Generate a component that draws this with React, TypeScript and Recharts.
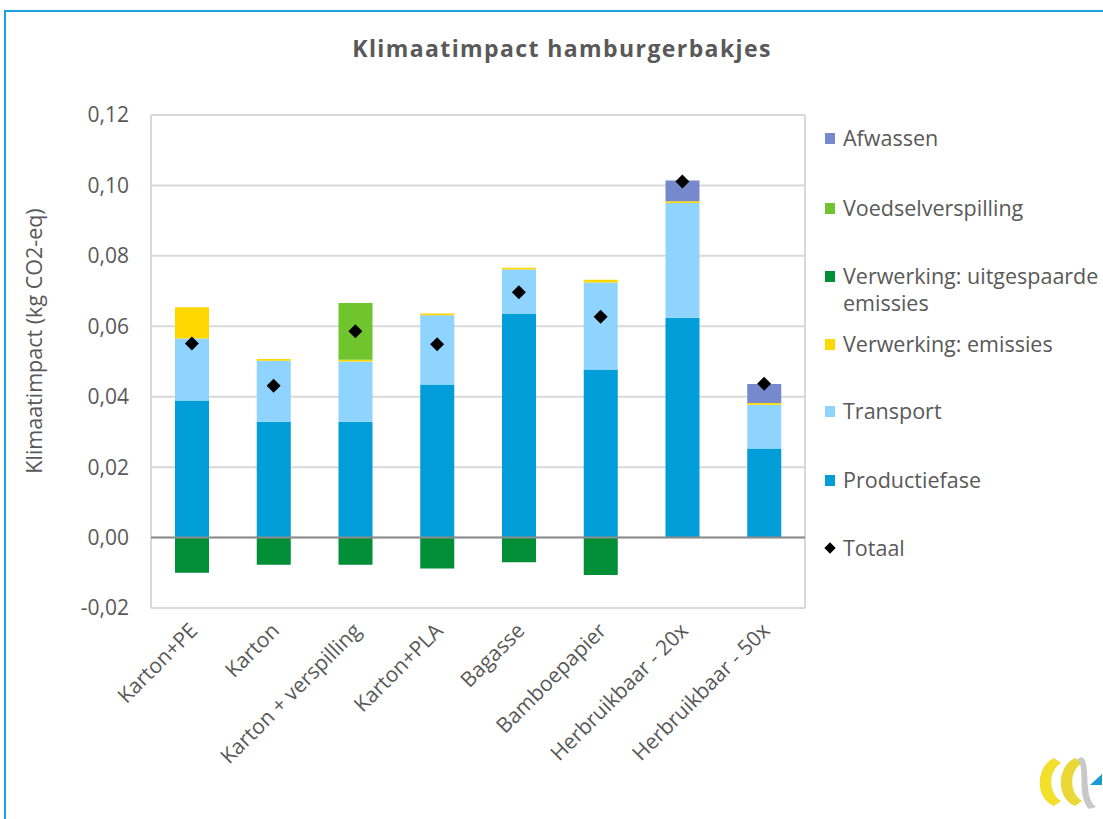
import { ComposedChart, Bar, Scatter, XAxis, YAxis, CartesianGrid, ReferenceLine } from 'recharts'

const categories = ['Karton+PE', 'Karton', 'Karton + verspilling', 'Karton+PLA', 'Bagasse', 'Bamboepapier', 'Herbruikbaar - 20x', 'Herbruikbaar - 50x']
const productiefase = [0.0389, 0.0329, 0.0329, 0.0435, 0.0635, 0.0477, 0.0624, 0.0253]
const transport = [0.0176, 0.0173, 0.0171, 0.0196, 0.0126, 0.0247, 0.0326, 0.0124]
const emissies = [0.0089, 0.0005, 0.0005, 0.0005, 0.0005, 0.0008, 0.0005, 0.0005]
const voedselverspilling = [0, 0, 0.0161, 0, 0, 0, 0, 0]
const afwassen = [0, 0, 0, 0, 0, 0, 0.0059, 0.0054]
const uitgespaard = [-0.01, -0.0077, -0.0077, -0.0088, -0.007, -0.0106, 0, 0]
const totaal = [0.0551, 0.0431, 0.0586, 0.0549, 0.0697, 0.0627, 0.1011, 0.0437]
const yTicks = [-0.02, 0, 0.02, 0.04, 0.06, 0.08, 0.1, 0.12]

const data = categories.map((name, i) => ({
  name,
  productiefase: productiefase[i],
  transport: transport[i],
  emissies: emissies[i],
  voedselverspilling: voedselverspilling[i],
  afwassen: afwassen[i],
  uitgespaard: uitgespaard[i],
  totaal: totaal[i],
}))

const TEXT = '#595959'
const FONT = '"Open Sans", "Liberation Sans", sans-serif'

// legend entries, top offset in px from the legend box
const legendItems = [
  { label: 'Afwassen', color: '#7589cc', top: 0 },
  { label: 'Voedselverspilling', color: '#70c52f', top: 70 },
  { label: 'Verwerking: uitgespaarde', label2: 'emissies', color: '#008f36', top: 138 },
  { label: 'Verwerking: emissies', color: '#ffd800', top: 206 },
  { label: 'Transport', color: '#8fd4ff', top: 273 },
  { label: 'Productiefase', color: '#009dd9', top: 342 },
  { label: 'Totaal', color: '#000', top: 410, diamond: true },
]

const Diamond = (props: any) => {
  const { cx, cy } = props
  if (cx == null || cy == null) return null
  const r = 7
  return <polygon points={`${cx},${cy - r} ${cx + r},${cy} ${cx},${cy + r} ${cx - r},${cy}`} fill="#000" />
}

const XTick = (props: any) => {
  const { x, y, payload } = props
  const ax = x + 7
  const ay = y + 16
  return (
    <text x={ax} y={ay} transform={`rotate(-45 ${ax} ${ay})`} textAnchor="end" fill={TEXT} fontSize={21} fontFamily={FONT}>
      {payload.value}
    </text>
  )
}

export default function App() {
  return (
    <div style={{ position: 'absolute', left: 0, top: 0, width: 1103, height: 819, background: '#fff', overflow: 'hidden' }}>
      <div style={{ position: 'absolute', left: 4, top: 10, width: 1200, height: 900, border: '2px solid #1ba1e2' }} />
      <div
        style={{
          position: 'absolute',
          left: 0,
          top: 32,
          width: 1124,
          textAlign: 'center',
          fontFamily: FONT,
          fontWeight: 'bold',
          fontSize: 23,
          letterSpacing: 1.4,
          color: TEXT,
        }}
      >
        Klimaatimpact hamburgerbakjes
      </div>
      <div style={{ position: 'absolute', left: 0, top: 0 }}>
        <ComposedChart
          width={1103}
          height={819}
          data={data}
          stackOffset="sign"
          barSize={34}
          margin={{ top: 115, right: 298, bottom: 0, left: 0 }}
        >
          <CartesianGrid stroke="#d9d9d9" strokeWidth={2} verticalPoints={[151, 805]} />
          <XAxis dataKey="name" axisLine={false} tickLine={false} interval={0} tick={<XTick />} height={211} />
          <YAxis
            width={151}
            domain={[-0.02, 0.12]}
            ticks={yTicks}
            axisLine={false}
            tickLine={false}
            tickMargin={16}
            tick={{ fill: TEXT, fontSize: 21, fontFamily: FONT }}
            tickFormatter={(v: number) => v.toFixed(2).replace('.', ',')}
            label={{
              content: () => (
                <text
                  x={36}
                  y={341}
                  transform="rotate(-90 36 341)"
                  textAnchor="middle"
                  dominantBaseline="middle"
                  fill={TEXT}
                  fontSize={21.5}
                  fontFamily={FONT}
                >
                  Klimaatimpact (kg CO2-eq)
                </text>
              ),
            }}
          />
          <Bar dataKey="productiefase" stackId="a" fill="#009dd9" isAnimationActive={false} />
          <Bar dataKey="transport" stackId="a" fill="#8fd4ff" isAnimationActive={false} />
          <Bar dataKey="emissies" stackId="a" fill="#ffd800" isAnimationActive={false} />
          <Bar dataKey="voedselverspilling" stackId="a" fill="#70c52f" isAnimationActive={false} />
          <Bar dataKey="afwassen" stackId="a" fill="#7589cc" isAnimationActive={false} />
          <Bar dataKey="uitgespaard" stackId="a" fill="#008f36" isAnimationActive={false} />
          <ReferenceLine y={0} stroke="#8c8c8c" strokeWidth={2} />
          <Scatter dataKey="totaal" shape={<Diamond />} isAnimationActive={false} />
        </ComposedChart>
      </div>
      <div style={{ position: 'absolute', left: 825, top: 125, width: 280, height: 440, fontFamily: FONT, color: TEXT, fontSize: 21 }}>
        {legendItems.map((it) => (
          <div key={it.label} style={{ position: 'absolute', top: it.top, left: 0, lineHeight: '26px', whiteSpace: 'nowrap' }}>
            {it.diamond ? (
              <span style={{ position: 'absolute', left: 1, top: 9, width: 8, height: 8, background: '#000', transform: 'rotate(45deg)' }} />
            ) : (
              <span style={{ position: 'absolute', left: 0, top: 8, width: 10, height: 11, background: it.color }} />
            )}
            <div style={{ marginLeft: 18, fontSize: 21.5 }}>{it.label}</div>
            {it.label2 && <div style={{ marginLeft: 18, marginTop: 2, lineHeight: '24px', fontSize: 21.5 }}>{it.label2}</div>}
          </div>
        ))}
      </div>
      <svg style={{ position: 'absolute', left: 1032, top: 754 }} width={71} height={60}>
        <path d="M22 4 C4 12 2 44 22 52 L29 47 C15 38 17 16 29 9 Z" fill="#f2e02a" />
        <path d="M43 4 C25 12 23 44 43 52 L50 47 C36 38 38 16 50 9 Z" fill="#e9d836" />
        <path d="M50 3 C60 10 50 42 64 53 L57 55 C44 42 54 12 45 5 Z" fill="#c8c8c8" />
        <path d="M58 31 L70 20 L70 31 Z" fill="#1b9ad6" />
      </svg>
    </div>
  )
}
